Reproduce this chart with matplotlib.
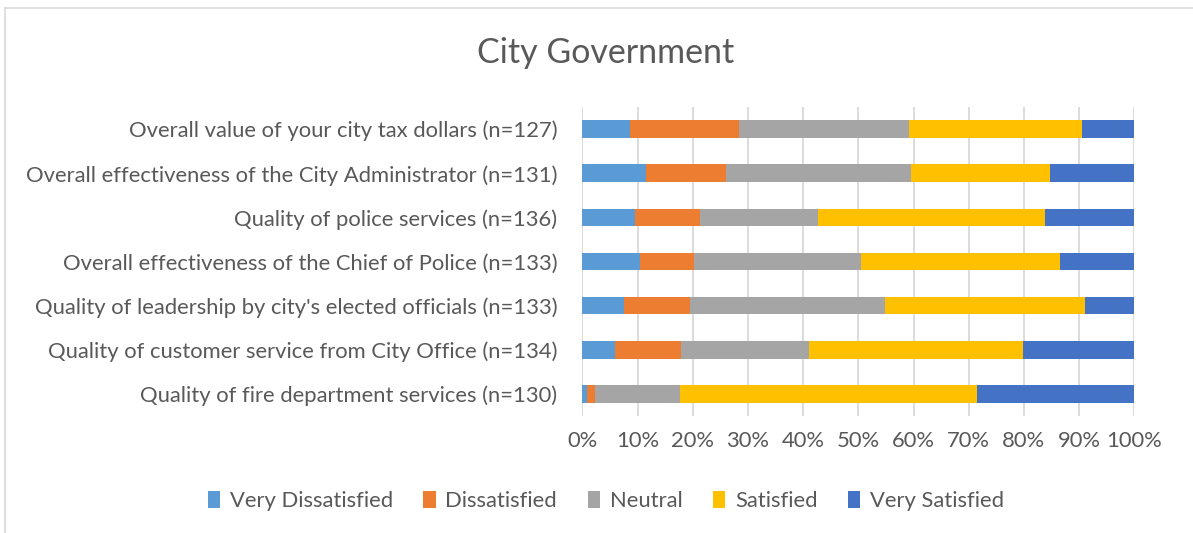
import matplotlib
matplotlib.use('Agg')
import matplotlib.pyplot as plt
import numpy as np
from matplotlib.patches import Rectangle
from matplotlib.ticker import PercentFormatter

# questions, top to bottom as drawn
questions = [
    'Overall value of your city tax dollars (n=127)',
    'Overall effectiveness of the City Administrator (n=131)',
    'Quality of police services (n=136)',
    'Overall effectiveness of the Chief of Police (n=133)',
    "Quality of leadership by city's elected officials (n=133)",
    'Quality of customer service from City Office (n=134)',
    'Quality of fire department services (n=130)',
]
levels = ['Very Dissatisfied', 'Dissatisfied', 'Neutral', 'Satisfied', 'Very Satisfied']

# percentages
very_dissatisfied = [8.7, 11.5, 9.6, 10.5, 7.5, 6.0, 0.8]
dissatisfied      = [19.7, 14.5, 11.8, 9.8, 12.0, 11.9, 1.5]
neutral           = [30.7, 33.6, 21.3, 30.1, 35.4, 23.1, 15.4]
satisfied         = [31.5, 25.2, 41.2, 36.1, 36.1, 38.8, 53.8]
very_satisfied    = [9.4, 15.2, 16.1, 13.5, 9.0, 20.2, 28.5]

colors = ['#5b9bd5', '#ed7d31', '#a5a5a5', '#ffc000', '#4472c4']
TXT = '#595959'

plt.rcParams['font.family'] = ['Lato', 'DejaVu Sans']

fig = plt.figure(figsize=(11.93, 5.33), dpi=100)
ax = fig.add_axes([582.3 / 1193, 1 - 416 / 533, 552 / 1193, 309 / 533])

# chart-area border like the Excel frame
fig.patches.append(Rectangle((5 / 1193, -0.05), 1.2, 1 - 8 / 533 + 0.05,
                             transform=fig.transFigure, fill=False,
                             edgecolor='#d9d9d9', lw=1.2))

y = np.arange(len(questions))
left = np.zeros(len(questions))
for vals, lab, c in zip([very_dissatisfied, dissatisfied, neutral, satisfied, very_satisfied],
                        levels, colors):
    vals = np.array(vals)
    ax.barh(y, vals, left=left, height=0.4, color=c, label=lab, zorder=3)
    left += vals

ax.set_xlim(0, 100)
ax.set_ylim(len(questions) - 0.5, -0.5)
ax.set_yticks(y)
ax.set_yticklabels(questions)
ax.set_xticks(np.arange(0, 101, 10))
ax.xaxis.set_major_formatter(PercentFormatter(decimals=0))
ax.tick_params(axis='both', length=0, labelsize=15.8, colors=TXT)
ax.tick_params(axis='y', pad=18)
ax.tick_params(axis='x', pad=11)
ax.grid(axis='x', color='#d9d9d9', lw=1.3, zorder=0)
for s in ax.spines.values():
    s.set_visible(False)

fig.text(606 / 1193, 1 - 53 / 533, 'City Government', ha='center', va='center',
         fontsize=24.5, color=TXT)

fig.legend(loc='center', bbox_to_anchor=(606 / 1193, 1 - 501 / 533), ncol=5,
           frameon=False, fontsize=15.8, labelcolor=TXT, handlelength=0.55,
           handleheight=0.85, handletextpad=0.45, columnspacing=1.4)

fig.savefig('out.png', dpi=100)
